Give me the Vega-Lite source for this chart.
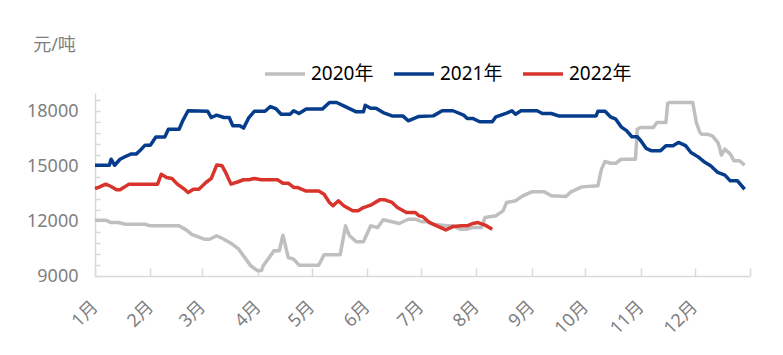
{
  "$schema": "https://vega.github.io/schema/vega-lite/v6.json",
  "autosize": "none",
  "width": 655,
  "height": 183,
  "padding": {"left": 95, "top": 93, "right": 33, "bottom": 79},
  "background": "white",
  "config": {
    "view": {"stroke": null},
    "font": "Noto Sans, Noto Sans CJK SC"
  },
  "data": {
    "values": [
      {"series": "2020年", "date": "2020/01/01", "price": 12050},
      {"series": "2020年", "date": "2020/01/07", "price": 12050},
      {"series": "2020年", "date": "2020/01/10", "price": 11920},
      {"series": "2020年", "date": "2020/01/14", "price": 11920},
      {"series": "2020年", "date": "2020/01/18", "price": 11830},
      {"series": "2020年", "date": "2020/01/29", "price": 11830},
      {"series": "2020年", "date": "2020/02/01", "price": 11740},
      {"series": "2020年", "date": "2020/02/17", "price": 11740},
      {"series": "2020年", "date": "2020/02/21", "price": 11520},
      {"series": "2020年", "date": "2020/02/24", "price": 11280},
      {"series": "2020年", "date": "2020/03/02", "price": 11010},
      {"series": "2020年", "date": "2020/03/05", "price": 11010},
      {"series": "2020年", "date": "2020/03/09", "price": 11200},
      {"series": "2020年", "date": "2020/03/13", "price": 11010},
      {"series": "2020年", "date": "2020/03/17", "price": 10790},
      {"series": "2020年", "date": "2020/03/21", "price": 10500},
      {"series": "2020年", "date": "2020/03/24", "price": 10100},
      {"series": "2020年", "date": "2020/03/28", "price": 9560},
      {"series": "2020年", "date": "2020/04/01", "price": 9280},
      {"series": "2020年", "date": "2020/04/03", "price": 9300},
      {"series": "2020年", "date": "2020/04/04", "price": 9560},
      {"series": "2020年", "date": "2020/04/08", "price": 10100},
      {"series": "2020年", "date": "2020/04/10", "price": 10380},
      {"series": "2020年", "date": "2020/04/13", "price": 10380},
      {"series": "2020年", "date": "2020/04/15", "price": 11230},
      {"series": "2020年", "date": "2020/04/18", "price": 10010},
      {"series": "2020年", "date": "2020/04/21", "price": 9920},
      {"series": "2020年", "date": "2020/04/24", "price": 9590},
      {"series": "2020年", "date": "2020/05/05", "price": 9590},
      {"series": "2020年", "date": "2020/05/08", "price": 10160},
      {"series": "2020年", "date": "2020/05/17", "price": 10160},
      {"series": "2020年", "date": "2020/05/20", "price": 11740},
      {"series": "2020年", "date": "2020/05/22", "price": 11230},
      {"series": "2020年", "date": "2020/05/26", "price": 10870},
      {"series": "2020年", "date": "2020/05/30", "price": 10870},
      {"series": "2020年", "date": "2020/06/03", "price": 11740},
      {"series": "2020年", "date": "2020/06/07", "price": 11650},
      {"series": "2020年", "date": "2020/06/10", "price": 12070},
      {"series": "2020年", "date": "2020/06/15", "price": 11960},
      {"series": "2020年", "date": "2020/06/19", "price": 11870},
      {"series": "2020年", "date": "2020/06/24", "price": 12100},
      {"series": "2020年", "date": "2020/06/28", "price": 12100},
      {"series": "2020年", "date": "2020/07/02", "price": 11960},
      {"series": "2020年", "date": "2020/07/05", "price": 11960},
      {"series": "2020年", "date": "2020/07/08", "price": 11830},
      {"series": "2020年", "date": "2020/07/16", "price": 11740},
      {"series": "2020年", "date": "2020/07/19", "price": 11740},
      {"series": "2020年", "date": "2020/07/23", "price": 11560},
      {"series": "2020年", "date": "2020/07/27", "price": 11560},
      {"series": "2020年", "date": "2020/07/30", "price": 11650},
      {"series": "2020年", "date": "2020/08/04", "price": 11650},
      {"series": "2020年", "date": "2020/08/06", "price": 12200},
      {"series": "2020年", "date": "2020/08/12", "price": 12290},
      {"series": "2020年", "date": "2020/08/16", "price": 12560},
      {"series": "2020年", "date": "2020/08/18", "price": 13020},
      {"series": "2020年", "date": "2020/08/23", "price": 13110},
      {"series": "2020年", "date": "2020/08/27", "price": 13380},
      {"series": "2020年", "date": "2020/09/01", "price": 13600},
      {"series": "2020年", "date": "2020/09/08", "price": 13600},
      {"series": "2020年", "date": "2020/09/12", "price": 13380},
      {"series": "2020年", "date": "2020/09/20", "price": 13340},
      {"series": "2020年", "date": "2020/09/23", "price": 13600},
      {"series": "2020年", "date": "2020/09/29", "price": 13870},
      {"series": "2020年", "date": "2020/10/08", "price": 13930},
      {"series": "2020年", "date": "2020/10/10", "price": 14840},
      {"series": "2020年", "date": "2020/10/12", "price": 15260},
      {"series": "2020年", "date": "2020/10/15", "price": 15160},
      {"series": "2020年", "date": "2020/10/18", "price": 15160},
      {"series": "2020年", "date": "2020/10/21", "price": 15380},
      {"series": "2020年", "date": "2020/10/29", "price": 15380},
      {"series": "2020年", "date": "2020/10/30", "price": 17020},
      {"series": "2020年", "date": "2020/11/01", "price": 17120},
      {"series": "2020年", "date": "2020/11/08", "price": 17120},
      {"series": "2020年", "date": "2020/11/10", "price": 17390},
      {"series": "2020年", "date": "2020/11/15", "price": 17390},
      {"series": "2020年", "date": "2020/11/16", "price": 18440},
      {"series": "2020年", "date": "2020/11/17", "price": 18480},
      {"series": "2020年", "date": "2020/11/30", "price": 18480},
      {"series": "2020年", "date": "2020/12/02", "price": 17390},
      {"series": "2020年", "date": "2020/12/04", "price": 16840},
      {"series": "2020年", "date": "2020/12/05", "price": 16750},
      {"series": "2020年", "date": "2020/12/08", "price": 16750},
      {"series": "2020年", "date": "2020/12/11", "price": 16660},
      {"series": "2020年", "date": "2020/12/14", "price": 16300},
      {"series": "2020年", "date": "2020/12/15", "price": 16020},
      {"series": "2020年", "date": "2020/12/16", "price": 15600},
      {"series": "2020年", "date": "2020/12/18", "price": 15930},
      {"series": "2020年", "date": "2020/12/21", "price": 15660},
      {"series": "2020年", "date": "2020/12/23", "price": 15300},
      {"series": "2020年", "date": "2020/12/26", "price": 15300},
      {"series": "2020年", "date": "2020/12/29", "price": 15060},

      {"series": "2021年", "date": "2021/01/01", "price": 15050},
      {"series": "2021年", "date": "2021/01/09", "price": 15050},
      {"series": "2021年", "date": "2021/01/10", "price": 15380},
      {"series": "2021年", "date": "2021/01/12", "price": 15050},
      {"series": "2021年", "date": "2021/01/15", "price": 15380},
      {"series": "2021年", "date": "2021/01/18", "price": 15530},
      {"series": "2021年", "date": "2021/01/21", "price": 15660},
      {"series": "2021年", "date": "2021/01/24", "price": 15660},
      {"series": "2021年", "date": "2021/01/26", "price": 15840},
      {"series": "2021年", "date": "2021/01/29", "price": 16150},
      {"series": "2021年", "date": "2021/02/01", "price": 16150},
      {"series": "2021年", "date": "2021/02/04", "price": 16600},
      {"series": "2021年", "date": "2021/02/09", "price": 16600},
      {"series": "2021年", "date": "2021/02/11", "price": 17020},
      {"series": "2021年", "date": "2021/02/17", "price": 17020},
      {"series": "2021年", "date": "2021/02/19", "price": 17480},
      {"series": "2021年", "date": "2021/02/22", "price": 18030},
      {"series": "2021年", "date": "2021/03/04", "price": 18000},
      {"series": "2021年", "date": "2021/03/06", "price": 17660},
      {"series": "2021年", "date": "2021/03/09", "price": 17790},
      {"series": "2021年", "date": "2021/03/13", "price": 17660},
      {"series": "2021年", "date": "2021/03/16", "price": 17660},
      {"series": "2021年", "date": "2021/03/18", "price": 17210},
      {"series": "2021年", "date": "2021/03/22", "price": 17210},
      {"series": "2021年", "date": "2021/03/24", "price": 17080},
      {"series": "2021年", "date": "2021/03/27", "price": 17660},
      {"series": "2021年", "date": "2021/03/30", "price": 18000},
      {"series": "2021年", "date": "2021/04/05", "price": 18000},
      {"series": "2021年", "date": "2021/04/08", "price": 18260},
      {"series": "2021年", "date": "2021/04/11", "price": 18150},
      {"series": "2021年", "date": "2021/04/14", "price": 17840},
      {"series": "2021年", "date": "2021/04/19", "price": 17840},
      {"series": "2021年", "date": "2021/04/21", "price": 18030},
      {"series": "2021年", "date": "2021/04/24", "price": 17880},
      {"series": "2021年", "date": "2021/04/28", "price": 18120},
      {"series": "2021年", "date": "2021/05/07", "price": 18120},
      {"series": "2021年", "date": "2021/05/11", "price": 18480},
      {"series": "2021年", "date": "2021/05/15", "price": 18480},
      {"series": "2021年", "date": "2021/05/19", "price": 18300},
      {"series": "2021年", "date": "2021/05/26", "price": 17970},
      {"series": "2021年", "date": "2021/05/30", "price": 17970},
      {"series": "2021年", "date": "2021/05/31", "price": 18330},
      {"series": "2021年", "date": "2021/06/03", "price": 18170},
      {"series": "2021年", "date": "2021/06/06", "price": 18170},
      {"series": "2021年", "date": "2021/06/10", "price": 17930},
      {"series": "2021年", "date": "2021/06/15", "price": 17750},
      {"series": "2021年", "date": "2021/06/21", "price": 17750},
      {"series": "2021年", "date": "2021/06/24", "price": 17480},
      {"series": "2021年", "date": "2021/06/30", "price": 17720},
      {"series": "2021年", "date": "2021/07/08", "price": 17750},
      {"series": "2021年", "date": "2021/07/13", "price": 18030},
      {"series": "2021年", "date": "2021/07/19", "price": 18030},
      {"series": "2021年", "date": "2021/07/25", "price": 17790},
      {"series": "2021年", "date": "2021/07/27", "price": 17610},
      {"series": "2021年", "date": "2021/07/30", "price": 17610},
      {"series": "2021年", "date": "2021/08/03", "price": 17430},
      {"series": "2021年", "date": "2021/08/10", "price": 17430},
      {"series": "2021年", "date": "2021/08/12", "price": 17700},
      {"series": "2021年", "date": "2021/08/18", "price": 17900},
      {"series": "2021年", "date": "2021/08/21", "price": 18030},
      {"series": "2021年", "date": "2021/08/23", "price": 17840},
      {"series": "2021年", "date": "2021/08/26", "price": 18030},
      {"series": "2021年", "date": "2021/09/04", "price": 18030},
      {"series": "2021年", "date": "2021/09/07", "price": 17880},
      {"series": "2021年", "date": "2021/09/12", "price": 17880},
      {"series": "2021年", "date": "2021/09/16", "price": 17750},
      {"series": "2021年", "date": "2021/10/07", "price": 17750},
      {"series": "2021年", "date": "2021/10/08", "price": 18000},
      {"series": "2021年", "date": "2021/10/12", "price": 18000},
      {"series": "2021年", "date": "2021/10/15", "price": 17700},
      {"series": "2021年", "date": "2021/10/18", "price": 17570},
      {"series": "2021年", "date": "2021/10/21", "price": 17150},
      {"series": "2021年", "date": "2021/10/24", "price": 16940},
      {"series": "2021年", "date": "2021/10/27", "price": 16610},
      {"series": "2021年", "date": "2021/10/30", "price": 16610},
      {"series": "2021年", "date": "2021/11/01", "price": 16390},
      {"series": "2021年", "date": "2021/11/04", "price": 15970},
      {"series": "2021年", "date": "2021/11/07", "price": 15840},
      {"series": "2021年", "date": "2021/11/12", "price": 15840},
      {"series": "2021年", "date": "2021/11/15", "price": 16120},
      {"series": "2021年", "date": "2021/11/19", "price": 16120},
      {"series": "2021年", "date": "2021/11/22", "price": 16300},
      {"series": "2021年", "date": "2021/11/26", "price": 16120},
      {"series": "2021年", "date": "2021/11/29", "price": 15750},
      {"series": "2021年", "date": "2021/12/03", "price": 15510},
      {"series": "2021年", "date": "2021/12/07", "price": 15200},
      {"series": "2021年", "date": "2021/12/10", "price": 15020},
      {"series": "2021年", "date": "2021/12/14", "price": 14660},
      {"series": "2021年", "date": "2021/12/18", "price": 14510},
      {"series": "2021年", "date": "2021/12/21", "price": 14200},
      {"series": "2021年", "date": "2021/12/25", "price": 14200},
      {"series": "2021年", "date": "2021/12/29", "price": 13740},

      {"series": "2022年", "date": "2022/01/01", "price": 13780},
      {"series": "2022年", "date": "2022/01/03", "price": 13840},
      {"series": "2022年", "date": "2022/01/07", "price": 14020},
      {"series": "2022年", "date": "2022/01/10", "price": 13890},
      {"series": "2022年", "date": "2022/01/13", "price": 13710},
      {"series": "2022年", "date": "2022/01/15", "price": 13710},
      {"series": "2022年", "date": "2022/01/20", "price": 14020},
      {"series": "2022年", "date": "2022/02/05", "price": 14020},
      {"series": "2022年", "date": "2022/02/07", "price": 14560},
      {"series": "2022年", "date": "2022/02/10", "price": 14380},
      {"series": "2022年", "date": "2022/02/13", "price": 14330},
      {"series": "2022年", "date": "2022/02/16", "price": 14020},
      {"series": "2022年", "date": "2022/02/20", "price": 13740},
      {"series": "2022年", "date": "2022/02/22", "price": 13560},
      {"series": "2022年", "date": "2022/02/25", "price": 13740},
      {"series": "2022年", "date": "2022/02/28", "price": 13740},
      {"series": "2022年", "date": "2022/03/03", "price": 14110},
      {"series": "2022年", "date": "2022/03/06", "price": 14330},
      {"series": "2022年", "date": "2022/03/09", "price": 15060},
      {"series": "2022年", "date": "2022/03/12", "price": 15020},
      {"series": "2022年", "date": "2022/03/14", "price": 14660},
      {"series": "2022年", "date": "2022/03/17", "price": 14020},
      {"series": "2022年", "date": "2022/03/21", "price": 14150},
      {"series": "2022年", "date": "2022/03/24", "price": 14260},
      {"series": "2022年", "date": "2022/03/27", "price": 14260},
      {"series": "2022年", "date": "2022/03/30", "price": 14330},
      {"series": "2022年", "date": "2022/04/03", "price": 14260},
      {"series": "2022年", "date": "2022/04/12", "price": 14260},
      {"series": "2022年", "date": "2022/04/15", "price": 14070},
      {"series": "2022年", "date": "2022/04/18", "price": 14070},
      {"series": "2022年", "date": "2022/04/21", "price": 13840},
      {"series": "2022年", "date": "2022/04/23", "price": 13840},
      {"series": "2022年", "date": "2022/04/28", "price": 13640},
      {"series": "2022年", "date": "2022/05/05", "price": 13640},
      {"series": "2022年", "date": "2022/05/08", "price": 13470},
      {"series": "2022年", "date": "2022/05/11", "price": 13020},
      {"series": "2022年", "date": "2022/05/13", "price": 12840},
      {"series": "2022年", "date": "2022/05/16", "price": 13110},
      {"series": "2022年", "date": "2022/05/19", "price": 12840},
      {"series": "2022年", "date": "2022/05/24", "price": 12560},
      {"series": "2022年", "date": "2022/05/27", "price": 12560},
      {"series": "2022年", "date": "2022/05/30", "price": 12740},
      {"series": "2022年", "date": "2022/06/03", "price": 12870},
      {"series": "2022年", "date": "2022/06/08", "price": 13160},
      {"series": "2022年", "date": "2022/06/11", "price": 13160},
      {"series": "2022年", "date": "2022/06/15", "price": 13020},
      {"series": "2022年", "date": "2022/06/18", "price": 12740},
      {"series": "2022年", "date": "2022/06/23", "price": 12470},
      {"series": "2022年", "date": "2022/06/28", "price": 12470},
      {"series": "2022年", "date": "2022/06/30", "price": 12290},
      {"series": "2022年", "date": "2022/07/02", "price": 12250},
      {"series": "2022年", "date": "2022/07/06", "price": 11920},
      {"series": "2022年", "date": "2022/07/10", "price": 11740},
      {"series": "2022年", "date": "2022/07/15", "price": 11520},
      {"series": "2022年", "date": "2022/07/19", "price": 11700},
      {"series": "2022年", "date": "2022/07/24", "price": 11740},
      {"series": "2022年", "date": "2022/07/27", "price": 11740},
      {"series": "2022年", "date": "2022/07/30", "price": 11870},
      {"series": "2022年", "date": "2022/08/02", "price": 11920},
      {"series": "2022年", "date": "2022/08/06", "price": 11780},
      {"series": "2022年", "date": "2022/08/10", "price": 11560}
    ]
  },
  "mark": {"type": "line", "strokeWidth": 3.5, "strokeJoin": "round", "strokeCap": "butt"},
  "encoding": {
    "x": {
      "field": "date",
      "timeUnit": "monthdate",
      "type": "temporal",
      "scale": {"domain": [{"year": 2012, "month": 1, "date": 1}, {"year": 2013, "month": 1, "date": 1}]},
      "axis": {
        "title": null,
        "grid": false,
        "values": [
          {"year": 2012, "month": 1, "date": 1}, {"year": 2012, "month": 2, "date": 1},
          {"year": 2012, "month": 3, "date": 1}, {"year": 2012, "month": 4, "date": 1},
          {"year": 2012, "month": 5, "date": 1}, {"year": 2012, "month": 6, "date": 1},
          {"year": 2012, "month": 7, "date": 1}, {"year": 2012, "month": 8, "date": 1},
          {"year": 2012, "month": 9, "date": 1}, {"year": 2012, "month": 10, "date": 1},
          {"year": 2012, "month": 11, "date": 1}, {"year": 2012, "month": 12, "date": 1},
          {"year": 2013, "month": 1, "date": 1}
        ],
        "labelExpr": "year(datum.value) > 2012 ? '' : (month(datum.value) + 1) + '月'",
        "labelAngle": -45,
        "labelAlign": "right",
        "labelBaseline": "middle",
        "labelPadding": 36,
        "labelFontSize": 18,
        "labelColor": "#7f7f7f",
        "labelFlush": false,
        "labelOverlap": false,
        "domainColor": "#d9d9d9",
        "domainWidth": 1.5,
        "tickColor": "#d9d9d9",
        "tickWidth": 1.5,
        "tickSize": -8
      }
    },
    "y": {
      "field": "price",
      "type": "quantitative",
      "scale": {"domain": [9000, 19000], "nice": false, "zero": false},
      "axis": {
        "title": "元/吨",
        "titleAngle": 0,
        "titleX": -41,
        "titleY": -48,
        "titleAlign": "center",
        "titleBaseline": "middle",
        "titleFontSize": 18,
        "titleFontWeight": "normal",
        "titleColor": "#7f7f7f",
        "grid": false,
        "values": [9000, 9600, 10200, 10800, 11400, 12000, 12600, 13200, 13800, 14400, 15000, 15600, 16200, 16800, 17400, 18000, 18600],
        "labelExpr": "datum.value % 3000 == 0 ? '' + datum.value : ''",
        "labelFontSize": 18,
        "labelColor": "#7f7f7f",
        "labelPadding": 22,
        "labelOverlap": false,
        "labelFlush": false,
        "domainColor": "#d9d9d9",
        "domainWidth": 1.5,
        "tickColor": "#d9d9d9",
        "tickWidth": 1.5,
        "tickSize": -5
      }
    },
    "color": {
      "field": "series",
      "type": "nominal",
      "scale": {"domain": ["2020年", "2021年", "2022年"], "range": ["#bfbfbf", "#063c8c", "#d9342b"]},
      "legend": {
        "title": null,
        "orient": "none",
        "direction": "horizontal",
        "legendX": 168,
        "legendY": -41,
        "symbolType": "stroke",
        "symbolSize": 1600,
        "symbolStrokeWidth": 3.5,
        "labelFontSize": 19,
        "labelColor": "#000000",
        "labelOffset": 4,
        "columnPadding": 13
      }
    }
  }
}
